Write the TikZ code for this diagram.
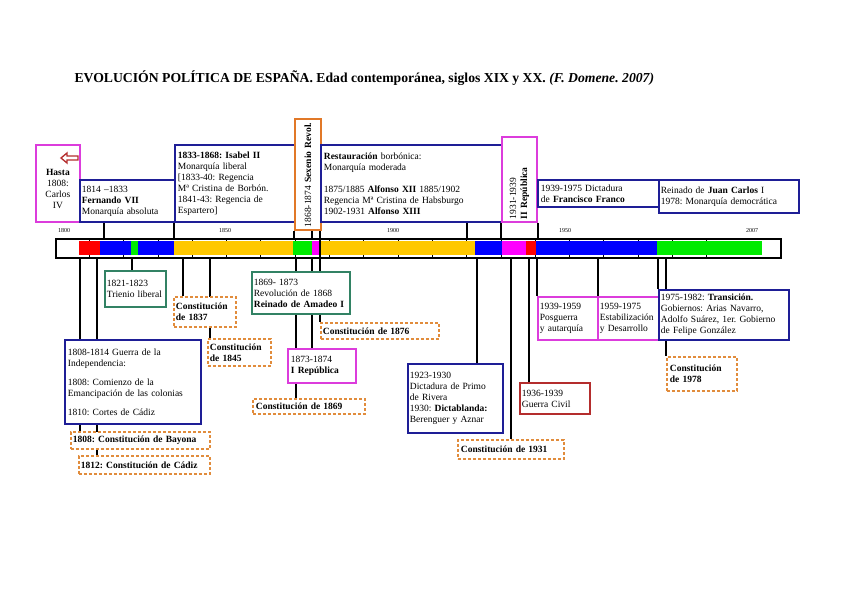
\documentclass[tikz,border=0pt]{standalone}
\usepackage{fontspec}
\setmainfont{Liberation Serif}
\usepackage{tikz}
\usetikzlibrary{positioning, backgrounds}
\frenchspacing

\definecolor{boxblue}{RGB}{30,30,150}
\definecolor{boxpink}{RGB}{220,60,220}
\definecolor{boxgreen}{RGB}{50,130,100}
\definecolor{boxorange}{RGB}{225,120,40}
\definecolor{boxred}{RGB}{180,45,45}
\definecolor{constorange}{RGB}{225,140,60}
\definecolor{segred}{RGB}{255,0,0}
\definecolor{segblue}{RGB}{0,0,255}
\definecolor{seggreen}{RGB}{0,235,0}
\definecolor{segyellow}{RGB}{255,200,0}
\definecolor{segpink}{RGB}{255,0,255}

\newcommand{\evfont}{\fontsize{9.5}{11}\selectfont}

\tikzset{
  evbox/.style={
    draw, line width=1.8pt, fill=white, anchor=north west,
    align=left, inner xsep=2pt, inner ysep=3pt, font=\evfont
  },
  bluebox/.style={evbox, draw=boxblue},
  pinkbox/.style={evbox, draw=boxpink},
  greenbox/.style={evbox, draw=boxgreen},
  redbox/.style={evbox, draw=boxred},
  constbox/.style={
    evbox, draw=constorange, dash pattern=on 3pt off 2pt,
    font=\evfont\bfseries
  },
  vertbox/.style={
    draw, line width=1.8pt, fill=white, rotate=90,
    align=left, inner sep=3pt, font=\evfont
  },
  link/.style={line width=1.8pt, black},
  yearlabel/.style={font=\fontsize{6}{7}\selectfont},
  titletext/.style={font=\fontsize{13.7}{16}\selectfont\bfseries, anchor=west},
}

\begin{document}
\begin{tikzpicture}[x=1pt, y=-1pt]
  \useasboundingbox (0,0) rectangle (848,599);

  % Title
  \node[titletext] (title) at (71,78)
    {EVOLUCIÓN POLÍTICA DE ESPAÑA. Edad contemporánea, siglos XIX y XX. \textit{(F. Domene. 2007)}};

  % Timeline bar
  \node[draw, line width=1.5pt, minimum width=725pt, minimum height=19pt,
    anchor=north west, inner sep=0pt] (bar) at (55,238) {};
  \foreach \t in {1,...,19}
    \draw[line width=0.8pt] ({55+\t*34.3},238) -- ({55+\t*34.3},257);
  \foreach \a/\b/\c in {79/100/segred, 100/131/segblue, 131/138/seggreen,
      138/174/segblue, 174/293/segyellow, 293/312/seggreen, 312/319/segpink,
      321/475/segyellow, 475/502/segblue, 502/526/segpink, 526/536/segred,
      536/657/segblue, 657/762/seggreen}
    \fill[\c] (\a,241) rectangle (\b,255);
  \foreach \yr/\px in {1800/64, 1850/225, 1900/393, 1950/565, 2007/752}
    \node[yearlabel] (y\yr) at (\px,231) {\yr};

  % Above the bar
  \node[pinkbox, minimum width=44pt, minimum height=77pt, text width=40pt,
    align=center] (carlos) at (35,144)
    {\mbox{}\\[7pt]\textbf{Hasta}\\1808:\\Carlos\\IV};
  \draw[boxred, line width=1.3pt, fill=white]
    (61,158) -- (67,153) -- (67,156) -- (78,156) -- (78,160)
    -- (67,160) -- (67,163) -- cycle;
  \node[bluebox, minimum width=95pt, minimum height=42pt, text width=91pt]
    (fernando) at (79,179)
    {1814 --1833\\\textbf{Fernando VII}\\Monarquía absoluta};
  \node[bluebox, minimum width=123pt, minimum height=77pt, text width=117pt]
    (isabel) at (174,144)
    {\textbf{1833-1868: Isabel II}\\Monarquía liberal\\{}[1833-40: Regencia\\
     Mª Cristina de Borbón.\\1841-43: Regencia de\\Espartero]};
  \node[vertbox, draw=boxorange, minimum width=111pt, minimum height=26pt,
    text width=105pt] (sexenio) at (308,174.5)
    {1868-1874 \textbf{Sexenio Revol.}};
  \node[bluebox, minimum width=183pt, minimum height=77pt, text width=177pt]
    (restauracion) at (320,144)
    {\textbf{Restauración} borbónica:\\ Monarquía moderada\\[11pt]
     1875/1885 \textbf{Alfonso XII} 1885/1902\\
     Regencia Mª Cristina de Habsburgo\\1902-1931 \textbf{Alfonso XIII}};
  \node[vertbox, draw=boxpink, minimum width=85pt, minimum height=35pt,
    text width=79pt] (republica2) at (519.5,179.5)
    {1931-1939\\\textbf{II República}};
  \node[bluebox, minimum width=121pt, minimum height=27pt, text width=115pt]
    (franco) at (537,179)
    {1939-1975 Dictadura\\de \textbf{Francisco Franco}};
  \node[bluebox, minimum width=140pt, minimum height=33pt, text width=136pt]
    (juancarlos) at (658,179)
    {Reinado de \textbf{Juan Carlos} I\\1978: Monarquía democrática};

  % Below the bar
  \node[greenbox, minimum width=61pt, minimum height=36pt, text width=57pt]
    (trienio) at (104,270) {1821-1823\\Trienio liberal};
  \node[constbox, minimum width=62pt, minimum height=30pt, text width=58pt]
    (c1837) at (173,296) {Constitución\\de 1837};
  \node[constbox, minimum width=63pt, minimum height=27pt, text width=59pt]
    (c1845) at (207,338) {Constitución\\de 1845};
  \node[bluebox, minimum width=136pt, minimum height=84pt, text width=130pt]
    (independencia) at (64,339)
    {1808-1814 Guerra de la\\Independencia:\\[8pt]1808: Comienzo de la\\
     Emancipación de las colonias\\[8pt]1810: Cortes de Cádiz};
  \node[constbox, minimum width=139pt, minimum height=17pt, text width=135pt]
    (bayona) at (70,431) {1808: Constitución de Bayona};
  \node[constbox, minimum width=131pt, minimum height=18pt, text width=127pt]
    (cadiz) at (78,455) {1812: Constitución de Cádiz};
  \node[greenbox, minimum width=96pt, minimum height=42pt, text width=94pt]
    (amadeo) at (251,271)
    {1869- 1873\\Revolución de 1868\\\textbf{Reinado de Amadeo I}};
  \node[constbox, minimum width=118pt, minimum height=16pt, text width=114pt]
    (c1876) at (320,322) {Constitución de 1876};
  \node[pinkbox, minimum width=68pt, minimum height=34pt, text width=62pt]
    (republica1) at (287,348) {1873-1874\\\textbf{I República}};
  \node[constbox, minimum width=112pt, minimum height=15pt, text width=106pt]
    (c1869) at (252,398) {Constitución de 1869};
  \node[bluebox, minimum width=95pt, minimum height=69pt, text width=91pt]
    (primo) at (407,363)
    {1923-1930\\Dictadura de Primo\\de Rivera\\1930: \textbf{Dictablanda:}\\
     Berenguer y Aznar};
  \node[constbox, minimum width=106pt, minimum height=19pt, text width=100pt]
    (c1931) at (457,439) {Constitución de 1931};
  \node[redbox, minimum width=70pt, minimum height=31pt, text width=66pt]
    (guerracivil) at (519,382) {1936-1939\\Guerra Civil};
  \node[pinkbox, minimum width=60pt, minimum height=43pt, text width=56pt]
    (posguerra) at (537,296) {1939-1959\\Posguerra\\y autarquía};
  \node[pinkbox, minimum width=61pt, minimum height=43pt, text width=59pt]
    (desarrollo) at (597,296) {1959-1975\\Estabilización\\y Desarrollo};
  \node[bluebox, minimum width=130pt, minimum height=50pt, text width=126pt]
    (transicion) at (658,289)
    {1975-1982: \textbf{Transición.}\\Gobiernos: Arias Navarro,\\
     Adolfo Suárez, 1er. Gobierno\\de Felipe González};
  \node[constbox, minimum width=70pt, minimum height=34pt, text width=64pt]
    (c1978) at (666,356) {Constitución\\ de 1978};

  % Connectors
  \begin{scope}[on background layer]
    \draw[link] (fernando.south -| 104,0) -- (bar.north -| 104,0);
    \draw[link] (isabel.south west) -- (bar.north -| isabel.south west);
    \draw[link] (sexenio.north west) -- (bar.north -| sexenio.north west);
    \draw[link] ([xshift=4pt]sexenio.west) -- (bar.north -| 312,0);
    \draw[link] (restauracion.south west) -- (c1876.north west);
    \draw[link] (restauracion.south -| 467,0) -- (bar.north -| 467,0);
    \draw[link] (republica2.north west) -- (bar.north -| republica2.north west);
    \draw[link] (republica2.south west) -- (bar.north -| republica2.south west);

    \draw[link] (bar.south -| 80,0) -- (bayona.north -| 80,0);
    \draw[link] (bar.south -| 97,0) -- (cadiz.north -| 97,0);
    \draw[link] (bar.south -| 132,0) -- (trienio.north -| 132,0);
    \draw[link] (bar.south -| 183,0) -- (c1837.north -| 183,0);
    \draw[link] (bar.south -| 210,0) -- (c1845.north -| 210,0);
    \draw[link] (bar.south -| 296,0) -- (c1869.north -| 296,0);
    \draw[link] (bar.south -| 312,0) -- (republica1.north -| 312,0);
    \draw[link] (bar.south -| 477,0) -- (primo.north -| 477,0);
    \draw[link, line width=2.8pt] (bar.south -| 511,0) -- (c1931.north -| 511,0);
    \draw[link] (bar.south -| 529,0) -- (guerracivil.north -| 529,0);
    \draw[link] (bar.south -| posguerra.north west) -- (posguerra.north west);
    \draw[link] (bar.south -| 598,0) -- (desarrollo.north -| 598,0);
    \draw[link] (bar.south -| transicion.north west) -- (transicion.north west);
    \draw[link] (bar.south -| 666,0) -- (c1978.north -| 666,0);
  \end{scope}
\end{tikzpicture}
\end{document}
